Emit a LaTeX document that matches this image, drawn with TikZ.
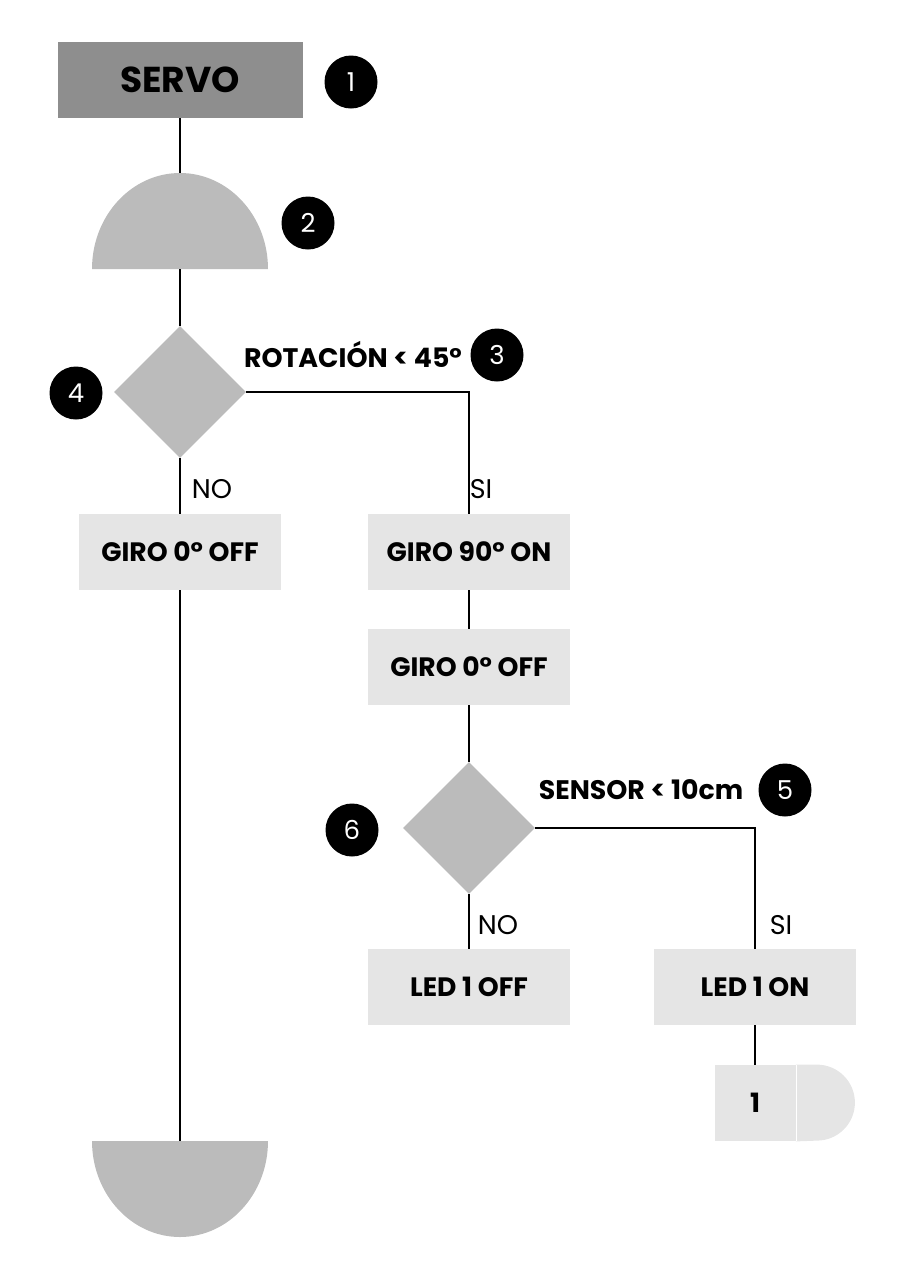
\documentclass[tikz,border=0pt]{standalone}
\usepackage{fontspec}
\setmainfont{Poppins}
\usetikzlibrary{shapes.geometric,positioning}
\definecolor{servogray}{RGB}{142,142,142}
\definecolor{shapegray}{RGB}{187,187,187}
\definecolor{boxgray}  {RGB}{229,229,229}
\tikzset{
  flowbox/.style  ={fill=boxgray, minimum width=101pt, minimum height=38pt,
                    inner sep=0pt, font=\fontsize{13.3}{15}\selectfont\bfseries},
  servobox/.style ={flowbox, fill=servogray, minimum width=122.5pt,
                    font=\fontsize{18}{20}\selectfont\bfseries},
  decide/.style   ={diamond, fill=shapegray, minimum width=66pt,
                    minimum height=66pt, inner sep=0pt},
  badge/.style    ={circle, fill=black, text=white, minimum size=26.5pt,
                    inner sep=0pt, font=\fontsize{13}{15}\selectfont},
  condlbl/.style  ={font=\fontsize{13.4}{15}\selectfont\bfseries, inner sep=0pt},
  branchlbl/.style={font=\fontsize{13.5}{15}\selectfont, inner sep=0pt},
  wire/.style     ={line width=1pt},
}
\begin{document}
\begin{tikzpicture}[x=0.5pt,y=-0.5pt]
  \useasboundingbox (0,0) rectangle (904,1280);
  % start
  \node[servobox] (servo) at (180,80) {SERVO};
  \node[badge] (b1) at (351,82) {1};
  \coordinate (a1top) at (180,173);
  \coordinate (a1bot) at (180,269);
  \fill[shapegray] (92,269) arc[start angle=180, end angle=0, x radius=44pt, y radius=48pt] -- cycle;
  \node[badge] (b2) at (308,223) {2};
  % first decision
  \node[decide] (d1) at (180,392) {};
  \node[badge] (b4) at (76,393) {4};
  \node[condlbl] (rot) at (353,355) {ROTACIÓN < 45°};
  \node[badge] (b3) at (497,355) {3};
  \node[branchlbl] (no1) at (212,489) {NO};
  \node[branchlbl] (si1) at (481,489) {SI};
  \node[flowbox] (giroA) at (180,552) {GIRO 0° OFF};
  \node[flowbox] (giroB) at (469,552) {GIRO 90° ON};
  \node[flowbox] (giroC) at (469,667) {GIRO 0° OFF};
  % second decision
  \node[decide] (d2) at (469,828) {};
  \node[badge] (b6) at (352,830) {6};
  \node[condlbl] (sen) at (641,790) {SENSOR < 10cm};
  \node[badge] (b5) at (785,790) {5};
  \node[branchlbl] (no2) at (498,925) {NO};
  \node[branchlbl] (si2) at (781,925) {SI};
  \node[flowbox] (ledoff) at (469,987) {LED 1 OFF};
  \node[flowbox] (ledon) at (755,987) {LED 1 ON};
  % off-page connector
  \node[flowbox, minimum width=40.5pt] (pg) at (755,1103) {1};
  \fill[boxgray] (pg.north east) -- ++(21,0) arc[start angle=90, end angle=-90, radius=19pt] -- (pg.south east) -- cycle;
  \draw[white, line width=0.4pt] (pg.north east) -- (pg.south east);
  % end
  \coordinate (a2top) at (180,1141);
  \fill[shapegray] (92,1141) arc[start angle=180, end angle=360, x radius=44pt, y radius=48pt] -- cycle;
  % connectors
  \draw[wire] (servo) -- (a1top);
  \draw[wire] (a1bot) -- (d1);
  \draw[wire] (d1) -- (giroA);
  \draw[wire] (d1.east) -| (giroB.north);
  \draw[wire] (giroB) -- (giroC);
  \draw[wire] (giroC) -- (d2);
  \draw[wire] (d2) -- (ledoff);
  \draw[wire] (d2.east) -| (ledon.north);
  \draw[wire] (ledon) -- (pg);
  \draw[wire] (giroA) -- (a2top);
\end{tikzpicture}
\end{document}
